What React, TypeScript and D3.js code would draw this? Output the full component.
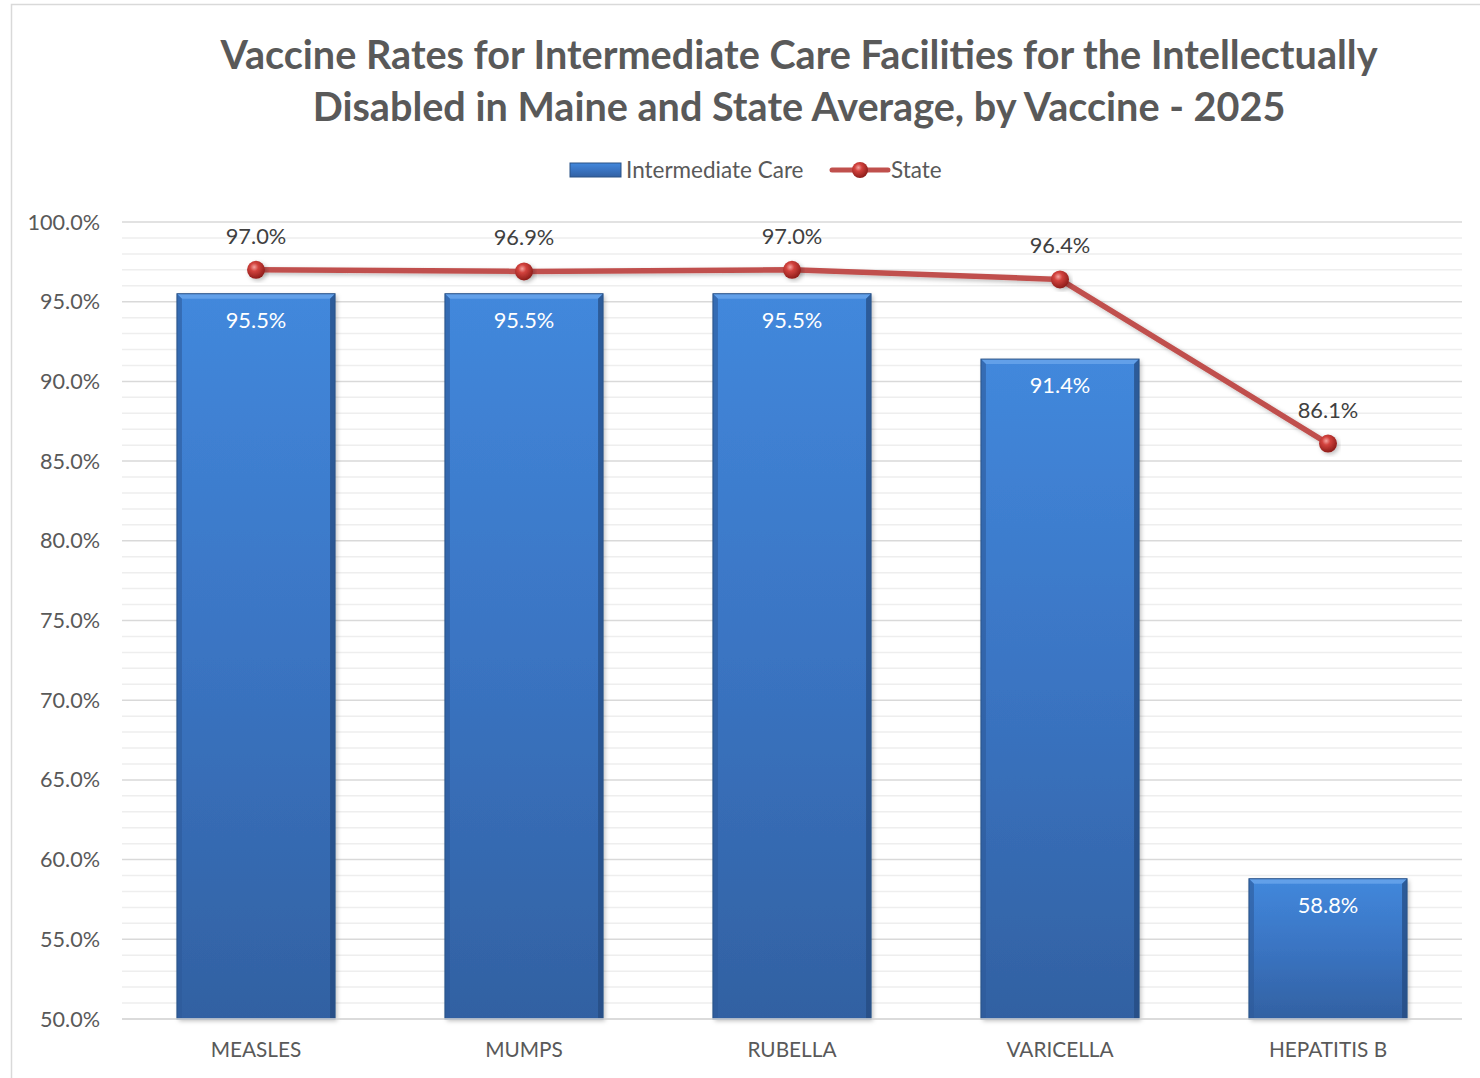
import * as d3 from 'd3';
import React, { useEffect } from 'react';

const categories = ['MEASLES', 'MUMPS', 'RUBELLA', 'VARICELLA', 'HEPATITIS B'];
const intermediateCare = [95.5, 95.5, 95.5, 91.4, 58.8];
const stateAvg = [97.0, 96.9, 97.0, 96.4, 86.1];
const yTicks = [50, 55, 60, 65, 70, 75, 80, 85, 90, 95, 100];

const W = 1480, H = 1078;
const FONT = 'Lato, "Open Sans", sans-serif';

function App() {
    useEffect(() => {
        document.body.style.margin = '0';
    }, []);

    // plot area
    const left = 122, right = 1462, top = 222, bottom = 1019;

    const x = d3.scaleBand().domain(categories).range([left, right]).paddingInner(0.41).paddingOuter(0.205);
    const y = d3.scaleLinear().domain([50, 100]).range([bottom, top]);
    const minor = d3.range(50, 101, 1).filter(v => v % 5 !== 0);

    const cx = (c) => x(c) + x.bandwidth() / 2;
    const line = d3.line().x((d, i) => cx(categories[i])).y(d => y(d));

    return (
        <svg width={W} height={H} style={{ display: 'block', background: 'white' }}>
            <defs>
                <linearGradient id="barGrad" x1="0" y1="0" x2="0" y2="1">
                    <stop offset="0%" stopColor="#4288dc" />
                    <stop offset="50%" stopColor="#3a74c2" />
                    <stop offset="100%" stopColor="#3261a2" />
                </linearGradient>
                <radialGradient id="ball" cx="0.4" cy="0.35" r="0.65">
                    <stop offset="0%" stopColor="#f5a3a0" />
                    <stop offset="35%" stopColor="#d2423d" />
                    <stop offset="100%" stopColor="#8e1d1a" />
                </radialGradient>
                <filter id="shadow" x="-10%" y="-10%" width="130%" height="130%">
                    <feDropShadow dx="2" dy="2" stdDeviation="2" floodColor="#000" floodOpacity="0.25" />
                </filter>
            </defs>

            <rect x={11.5} y={4.5} width={W + 10} height={H + 10} fill="white" stroke="#d9d9d9" strokeWidth={1.5} />

            {/* title */}
            <text x={799} y={69} textAnchor="middle" fontFamily={FONT} fontWeight="bold" fontSize={39.6} fill="#595959">
                Vaccine Rates for Intermediate Care Facilities for the Intellectually
            </text>
            <text x={799} y={121} textAnchor="middle" fontFamily={FONT} fontWeight="bold" fontSize={39.6} fill="#595959">
                Disabled in Maine and State Average, by Vaccine - 2025
            </text>

            {/* legend */}
            <g>
                <rect x={570} y={163} width={51} height={14} fill="url(#barGrad)" stroke="#2a5286" strokeWidth={1} />
                <text x={626} y={178} fontFamily={FONT} fontSize={22.5} fill="#595959">Intermediate Care</text>
                <line x1={832} x2={888} y1={170} y2={170} stroke="#c0504d" strokeWidth={5} strokeLinecap="round" />
                <circle cx={860} cy={170} r={8} fill="url(#ball)" />
                <text x={891} y={178} fontFamily={FONT} fontSize={22.5} fill="#595959">State</text>
            </g>

            {/* gridlines */}
            {minor.map(v => (
                <line key={'m' + v} x1={left} x2={right} y1={y(v)} y2={y(v)} stroke="#eeeeee" strokeWidth={1.5} />
            ))}
            {yTicks.map(v => (
                <line key={'g' + v} x1={left} x2={right} y1={y(v)} y2={y(v)} stroke="#d9d9d9" strokeWidth={1.5} />
            ))}
            {yTicks.map(v => (
                <text key={'t' + v} x={100} y={y(v) + 7.5} textAnchor="end" fontFamily={FONT} fontSize={21.6} fill="#595959">
                    {v.toFixed(1) + '%'}
                </text>
            ))}

            {/* bars */}
            {categories.map((c, i) => {
                const bx = x(c), bw = x.bandwidth(), by = y(intermediateCare[i]), bh = bottom - by;
                const b = 5;
                return (
                    <g key={c}>
                        <rect x={bx} y={by} width={bw} height={bh} fill="url(#barGrad)" filter="url(#shadow)" />
                        <polygon points={`${bx},${by} ${bx + bw},${by} ${bx + bw - b},${by + b} ${bx + b},${by + b}`} fill="#6aa6ec" opacity={0.8} />
                        <polygon points={`${bx},${by} ${bx + b},${by + b} ${bx + b},${by + bh} ${bx},${by + bh}`} fill="#2d5a99" opacity={0.6} />
                        <polygon points={`${bx + bw},${by} ${bx + bw - b},${by + b} ${bx + bw - b},${by + bh} ${bx + bw},${by + bh}`} fill="#24497d" opacity={0.7} />
                        <rect x={bx} y={by} width={bw} height={bh} fill="none" stroke="#2a5286" strokeWidth={1} />
                        <text x={cx(c)} y={by + 34} textAnchor="middle" fontFamily={FONT} fontSize={21.8} fill="#ffffff">
                            {intermediateCare[i].toFixed(1) + '%'}
                        </text>
                    </g>
                );
            })}

            <line x1={left} x2={right} y1={bottom} y2={bottom} stroke="#d9d9d9" strokeWidth={1.5} />

            {/* x labels */}
            {categories.map(c => (
                <text key={'x' + c} x={cx(c)} y={1057} textAnchor="middle" fontFamily={FONT} fontSize={20.8} fill="#595959">{c}</text>
            ))}

            {/* state line */}
            <path d={line(stateAvg)} fill="none" stroke="#c0504d" strokeWidth={5.5} strokeLinejoin="round" filter="url(#shadow)" />
            {stateAvg.map((v, i) => (
                <g key={'s' + i}>
                    <circle cx={cx(categories[i])} cy={y(v)} r={9} fill="url(#ball)" filter="url(#shadow)" />
                    <text x={cx(categories[i])} y={y(v) - 26} textAnchor="middle" fontFamily={FONT} fontSize={21.8} fill="#404040">
                        {v.toFixed(1) + '%'}
                    </text>
                </g>
            ))}
        </svg>
    );
}

export default App;
